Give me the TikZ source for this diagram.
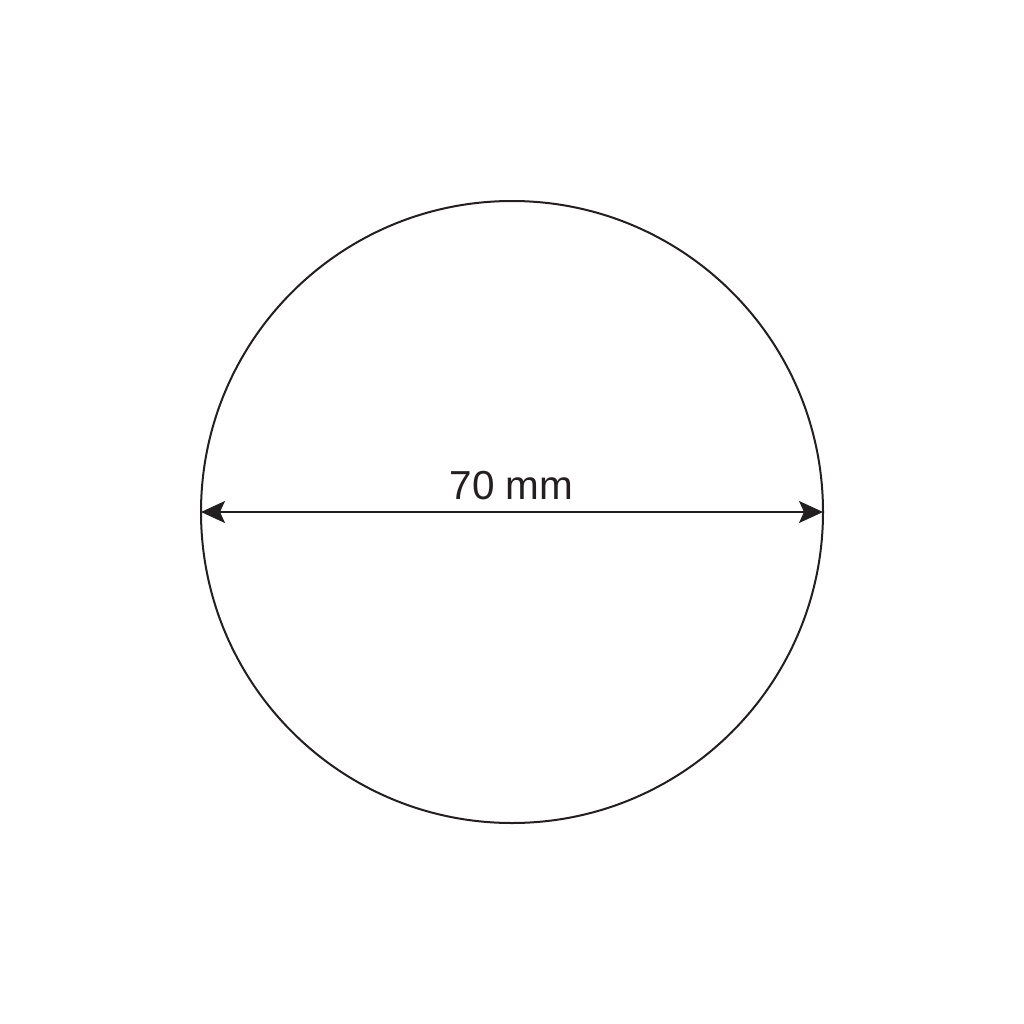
\documentclass[tikz,border=0pt]{standalone}
\usepackage{fontspec}
\setmainfont{Liberation Sans}
\usetikzlibrary{arrows.meta}
\definecolor{ink}{HTML}{231F20}
\begin{document}
\begin{tikzpicture}[x=1pt,y=-1pt,
  outline/.style={draw=ink,line width=2pt},
  dimline/.style={draw=ink,line width=2pt,{Stealth[length=24pt,width=22pt,inset=5pt]}-{Stealth[length=24pt,width=22pt,inset=5pt]}},
  lbl/.style={text=ink,font=\fontsize{40.5}{44}\selectfont,inner sep=0pt,anchor=base}]
\useasboundingbox (0,0) rectangle (1024,1024);
\draw[outline] (512,512) circle[radius=311];
\coordinate (L) at (201,512);
\coordinate (R) at (823,512);
\draw[dimline] (L) -- (R);
\node[lbl] (t) at (511.5,499) {70 mm};
\end{tikzpicture}
\end{document}
